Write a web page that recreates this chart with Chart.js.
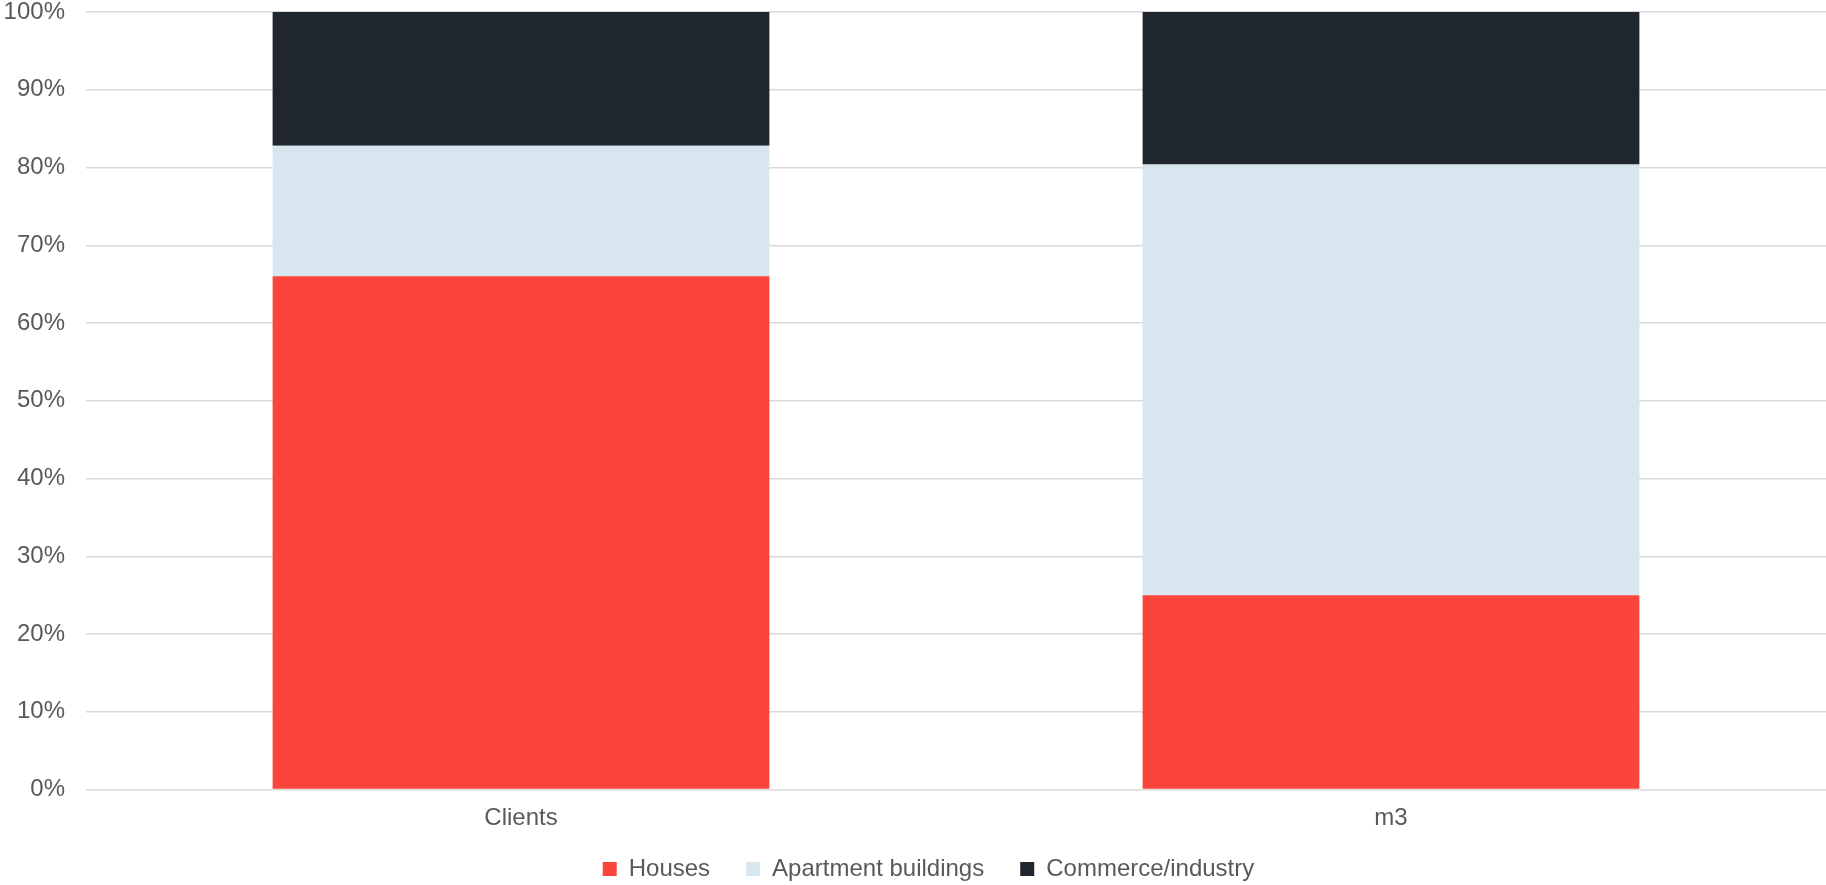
<!DOCTYPE html>
<html>
<head>
<meta charset="utf-8">
<script src="https://cdn.jsdelivr.net/npm/chart.js@4/dist/chart.umd.min.js"></script>
<style>
html,body{margin:0;padding:0;background:#fff;}
#wrap{width:1826px;height:885px;}
</style>
</head>
<body>
<div id="wrap"><canvas id="c" width="1826" height="885"></canvas></div>
<script>
const categories = ["Clients", "m3"];
const seriesNames = ["Houses", "Apartment buildings", "Commerce/industry"];
const houses = [66.0, 25.0];
const apartments = [16.8, 55.4];
const commerce = [17.2, 19.6];
const yTicks = [0, 10, 20, 30, 40, 50, 60, 70, 80, 90, 100];
const colors = ["#FA443C", "#D8E6F0", "#1F262E"];

const textColor = "#595959";
const fontFamily = "'Liberation Sans', Arial, sans-serif";

const legendNudge = {
  id: 'legendNudge',
  afterLayout(chart) {
    const l = chart.legend;
    if (!l) return;
    l.left += 13; l.right += 13;
    l.top -= 11.5; l.bottom -= 11.5;
  }
};

new Chart(document.getElementById('c'), {
  type: 'bar',
  data: {
    labels: categories,
    datasets: [
      {label: seriesNames[0], data: houses, backgroundColor: colors[0]},
      {label: seriesNames[1], data: apartments, backgroundColor: colors[1]},
      {label: seriesNames[2], data: commerce, backgroundColor: colors[2]}
    ]
  },
  plugins: [legendNudge],
  options: {
    responsive: false,
    devicePixelRatio: 1,
    animation: false,
    layout: {padding: {left: 5, right: 0, top: 12, bottom: -17.5}},
    datasets: {bar: {categoryPercentage: 1.0, barPercentage: 0.571}},
    scales: {
      x: {
        stacked: true,
        grid: {display: false, drawTicks: false},
        border: {display: false},
        ticks: {color: textColor, font: {family: fontFamily, size: 24}, padding: 14},
        afterFit: (axis) => { axis.height = 43; axis.paddingLeft = 0; axis.paddingRight = 0; }
      },
      y: {
        stacked: true,
        min: 0,
        max: 100,
        afterBuildTicks: (axis) => { axis.ticks = yTicks.map(v => ({value: v})); },
        grid: {color: "#D9D9D9", lineWidth: 1.5, drawTicks: false},
        border: {display: false},
        ticks: {color: textColor, font: {family: fontFamily, size: 24}, padding: 21, callback: (v) => v + '%'},
        afterFit: (axis) => { axis.width = 81; axis.paddingTop = 0; axis.paddingBottom = 0; }
      }
    },
    plugins: {
      legend: {
        position: 'bottom',
        labels: {color: textColor, font: {family: fontFamily, size: 24}, boxWidth: 14, boxHeight: 14, padding: 36}
      },
      tooltip: {enabled: false}
    }
  }
});
</script>
</body>
</html>
